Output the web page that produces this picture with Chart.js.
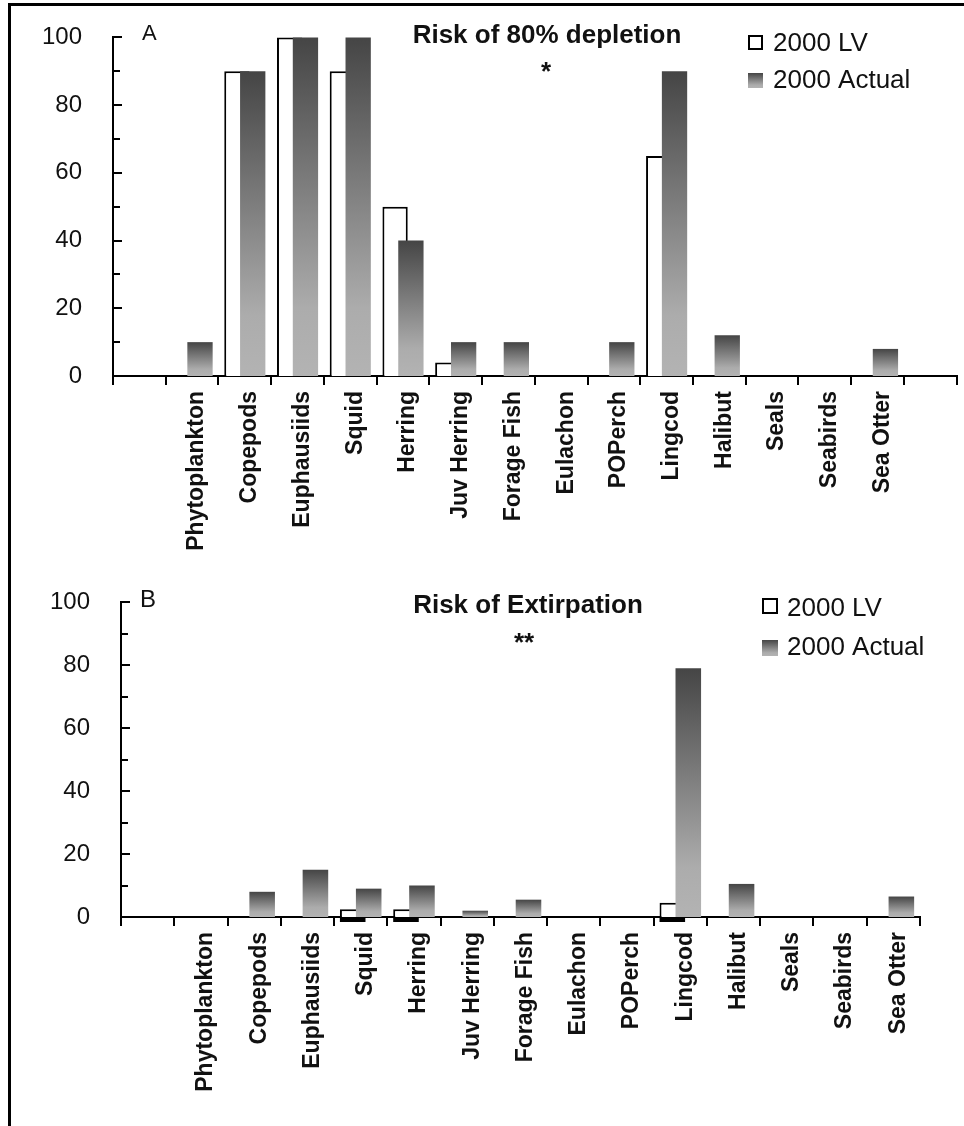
<!DOCTYPE html>
<html>
<head>
<meta charset="utf-8">
<title>Risk of depletion and extirpation</title>
<script src="https://cdn.jsdelivr.net/npm/chart.js@4/dist/chart.umd.min.js"></script>
<style>
  html, body { margin: 0; padding: 0; background: #fff; }
  #page { position: relative; width: 964px; height: 1126px; overflow: hidden; background: #fff; }
  #frame { position: absolute; left: 8px; top: 3px; right: 0; bottom: 0;
           border-top: 3px solid #000; border-left: 3px solid #000; }
  canvas { position: absolute; left: 0; }
  #chartA { top: 0; }
  #chartB { top: 560px; }
</style>
</head>
<body>
<div id="page">
  <div id="frame"></div>
  <canvas id="chartA" width="964" height="560"></canvas>
  <canvas id="chartB" width="964" height="566"></canvas>
</div>
<script>
// Functional groups of the ecosystem model
const species = ['Phytoplankton', 'Copepods', 'Euphausiids', 'Squid', 'Herring', 'Juv Herring',
                 'Forage Fish', 'Eulachon', 'POPerch', 'Lingcod', 'Halibut', 'Seals', 'Seabirds', 'Sea Otter'];

// Panel A: risk (%) of 80% depletion
const depletionLV     = [0, 90, 100, 90, 50, 4, 0, 0, 0, 65, 0, 0, 0, 0];
const depletionActual = [10, 90, 100, 100, 40, 10, 10, 0, 10, 90, 12, 0, 0, 8];

// Panel B: risk (%) of extirpation
const extirpationLV     = [0, 0, 0, 2.5, 2.5, 0, 0, 0, 0, 4.5, 0, 0, 0, 0];
const extirpationActual = [0, 8, 15, 9, 10, 2, 5.5, 0, 0, 79, 10.5, 0, 0, 6.5];

const seriesNames = ['2000 LV', '2000 Actual'];
const yTickValues = [0, 20, 40, 60, 80, 100];

Chart.defaults.font.family = '"Liberation Sans", Arial, Helvetica, sans-serif';
Chart.defaults.color = '#111';

// Vertical grey ramp for each "Actual" bar, dark at the top, light at the base
function shadeRamp(ctx, top, base) {
  const g = ctx.createLinearGradient(0, top, 0, base);
  g.addColorStop(0, '#454545');
  g.addColorStop(0.8, '#acacac');
  g.addColorStop(1, '#b3b3b3');
  return g;
}

function actualShade(c) {
  const chart = c.chart;
  if (c.type !== 'data' || !chart.chartArea || !chart.scales.y) return '#888';
  const ys = chart.scales.y;
  const top = ys.getPixelForValue(c.raw);
  const base = ys.getPixelForValue(0);
  if (!isFinite(top) || base - top < 1) return '#888';
  return shadeRamp(chart.ctx, top, base);
}

// Draw order, inward y ticks, panel letter, title, significance marks and key
const panelDecor = {
  id: 'panelDecor',
  beforeDatasetsDraw(chart) {
    // open LV bars first so the shaded Actual bars sit over them
    chart.getDatasetMeta(0).controller.draw();
    chart.getDatasetMeta(1).controller.draw();
    return false;
  },
  afterDraw(chart, args, o) {
    const ctx = chart.ctx;
    const ys = chart.scales.y;
    const area = chart.chartArea;
    ctx.save();

    // y tick marks pointing into the plot
    ctx.strokeStyle = '#000';
    ctx.lineWidth = 2;
    for (let v = 0; v <= 100; v += 10) {
      const y = Math.round(ys.getPixelForValue(v));
      const len = v % 20 === 0 ? 9 : 7;
      ctx.beginPath();
      ctx.moveTo(area.left - 1, y);
      ctx.lineTo(area.left + len, y);
      ctx.stroke();
    }

    // heavy base under the small open bars
    if (o.baseMarks) {
      const meta = chart.getDatasetMeta(0);
      ctx.fillStyle = '#000';
      meta.data.forEach((el, i) => {
        const v = chart.data.datasets[0].data[i];
        if (v && v > 0) {
          const p = el.getProps(['x', 'base', 'width'], true);
          ctx.fillRect(p.x - p.width / 2, p.base + 1, p.width, 4);
        }
      });
    }

    ctx.fillStyle = '#111';
    ctx.textBaseline = 'alphabetic';

    // panel letter
    ctx.textAlign = 'left';
    ctx.font = `${o.letter.size}px "Liberation Sans", Arial, sans-serif`;
    ctx.fillText(o.letter.text, o.letter.x, o.letter.y);

    // title and significance mark
    ctx.textAlign = 'center';
    ctx.font = 'bold 26px "Liberation Sans", Arial, sans-serif';
    ctx.fillText(o.title.text, o.title.x, o.title.y);
    ctx.fillText(o.mark.text, o.mark.x, o.mark.y);

    // key
    const k = o.key;
    ctx.lineWidth = 2;
    ctx.strokeStyle = '#000';
    ctx.fillStyle = '#fff';
    ctx.fillRect(k.x, k.y1, k.box, k.box);
    ctx.strokeRect(k.x + 1, k.y1 + 1, k.box - 2, k.box - 2);
    ctx.fillStyle = shadeRamp(ctx, k.y2, k.y2 + k.box);
    ctx.fillRect(k.x, k.y2, k.box, k.box);

    ctx.fillStyle = '#111';
    ctx.textAlign = 'left';
    ctx.font = '26px "Liberation Sans", Arial, sans-serif';
    ctx.fillText(seriesNames[0], k.tx, k.b1);
    ctx.fillText(seriesNames[1], k.tx, k.b2);
    ctx.restore();
  }
};

function makePanel(id, labels, lv, actual, geom, deco) {
  return new Chart(document.getElementById(id), {
    type: 'bar',
    data: {
      labels: labels,
      datasets: [
        { label: seriesNames[0], data: lv, backgroundColor: '#fff', borderColor: '#000',
          borderWidth: 2, categoryPercentage: 0.6, barPercentage: 1.6 },
        { label: seriesNames[1], data: actual, backgroundColor: actualShade, borderWidth: 0,
          categoryPercentage: 0.6, barPercentage: 1.6 }
      ]
    },
    options: {
      responsive: false,
      animation: false,
      devicePixelRatio: 1,
      layout: { padding: { top: geom.top, right: geom.right, left: 0, bottom: 0 } },
      plugins: {
        legend: { display: false },
        tooltip: { enabled: false },
        panelDecor: deco
      },
      scales: {
        x: {
          type: 'category',
          offset: true,
          grid: { display: true, offset: true, drawOnChartArea: false, drawTicks: true,
                  tickLength: 9, color: '#000', lineWidth: 2 },
          border: { display: true, color: '#000', width: 2 },
          ticks: { autoSkip: false, minRotation: 90, maxRotation: 90, padding: 6,
                   labelOffset: 5, color: '#111', font: { size: 23, weight: 'bold' } },
          afterFit: s => { s.height = geom.xHeight; }
        },
        y: {
          min: 0, max: 100,
          afterBuildTicks: s => { s.ticks = yTickValues.map(v => ({ value: v })); },
          ticks: { padding: 23, color: '#111', font: { size: 24 } },
          grid: { display: false },
          border: { display: true, color: '#000', width: 2 },
          afterFit: s => { s.width = geom.yWidth; }
        }
      }
    },
    plugins: [panelDecor]
  });
}

// Panel A has an empty slot on each side of the groups, panel B only on the left
makePanel('chartA',
  ['', ...species, ''],
  [null, ...depletionLV, null],
  [null, ...depletionActual, null],
  { top: 34, right: 5, yWidth: 113, xHeight: 184 },
  {
    letter: { text: 'A', x: 142, y: 40, size: 22 },
    title: { text: 'Risk of 80% depletion', x: 547, y: 43 },
    mark: { text: '*', x: 546, y: 80 },
    key: { x: 748, y1: 35, y2: 73, box: 15, tx: 773, b1: 51, b2: 88 },
    baseMarks: false
  });

makePanel('chartB',
  ['', ...species],
  [null, ...extirpationLV],
  [null, ...extirpationActual],
  { top: 42, right: 44, yWidth: 121, xHeight: 209 },
  {
    letter: { text: 'B', x: 140, y: 47, size: 24 },
    title: { text: 'Risk of Extirpation', x: 528, y: 53 },
    mark: { text: '**', x: 524, y: 91 },
    key: { x: 762, y1: 38, y2: 80, box: 16, tx: 787, b1: 56, b2: 95 },
    baseMarks: true
  });
</script>
</body>
</html>
